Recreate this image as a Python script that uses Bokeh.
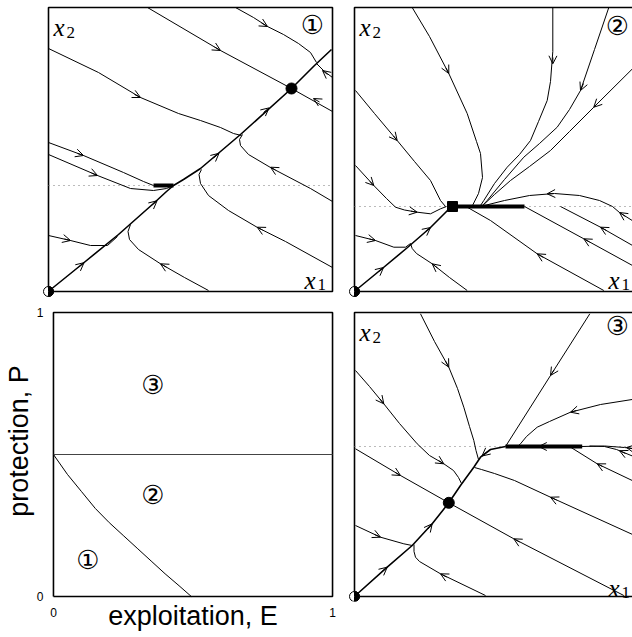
import math
from bokeh.plotting import figure
from bokeh.models import Range1d, ColumnDataSource, Arrow, OpenHead, FixedTicker
from bokeh.layouts import column, row
from bokeh.embed import file_html
from bokeh.resources import INLINE
from bokeh.core.properties import value

BOX = 284  # side of each phase-plane box (state units)

# ---------------- Panel 1 (region 1) ----------------
p1_diag_x = [1, 35, 70, 105, 118, 125, 135, 152, 192, 243, 266, 283]
p1_diag_y = [1, 28.5, 57, 88, 100, 106, 112, 123, 157, 203, 226, 242]
p1_curves_x = [
    [187, 205, 219, 235, 250, 262, 268],
    [99, 172, 243, 284],
    [0, 50, 92, 130, 152, 172, 185, 193],
    [0, 35, 75, 95, 105],
    [0, 49, 82, 105, 118, 125],
    [0, 22, 42, 59, 69],
    [160, 136, 112, 90, 81, 79.5, 82],
    [284, 237, 209, 180, 160, 152, 150.5, 153],
    [284, 262, 222, 200, 192, 191, 194],
    [284, 276, 268],
]
p1_curves_y = [
    [284, 274, 265, 257, 248, 239, 229],
    [284, 241, 203, 180],
    [243, 219, 194, 178, 171, 164, 158, 156],
    [149, 136, 119, 110, 106],
    [137, 116, 103, 101, 103, 106],
    [56, 51, 46, 46, 55],
    [1, 14, 27.7, 42, 52, 60, 67],
    [24, 50, 64, 81, 96, 108, 117, 122],
    [90, 103, 124, 137, 146, 152, 157],
    [214, 220, 228],
]
p1_switch = 106
p1_slide_x = [105, 125]
p1_node_x, p1_node_y = [243], [203]
p1_ar_x0 = [30, 103, 165, 215, 213, 166, 271, 86, 29, 43, 16, 118, 214, 227, 279]
p1_ar_y0 = [24.2, 86, 133.5, 179, 268.5, 244.5, 189.5, 197, 138, 118.5, 52.5, 24.3, 61.5, 121.5, 217]
p1_ar_x1 = [35.5, 108.5, 170.5, 220.5, 219, 172, 265, 92, 35, 49, 22, 112, 208.7, 222, 274]
p1_ar_y1 = [28.8, 90.7, 138.2, 183.6, 265, 241, 193, 194, 136, 116, 51, 27.7, 64.3, 124.3, 221]

# ---------------- Panel 2 (region 2) ----------------
p2_diag_x = [1, 29, 53, 76, 92, 97]
p2_diag_y = [1, 24, 44, 64, 80, 85]
p2_curves_x = [
    [57.7, 75, 94.3, 112.7, 122, 126, 128, 124, 118],
    [1, 20, 42.7, 60, 76, 86, 91],
    [1, 19.3, 32, 41, 50, 62.7, 76, 86, 92],
    [1, 21, 39.3, 51, 56],
    [112.7, 95, 77.7, 62, 57.7, 56],
    [249.3, 182.7, 136, 112.7, 110],
    [284, 229.3, 170],
    [284, 246, 206],
    [284, 265, 258, 245, 225, 200, 175, 150, 130],
    [198.3, 198.3, 196, 192.7, 184, 176, 165, 152.7, 140, 129.3, 126],
    [254.3, 240, 226, 215, 202.7, 185, 169.3, 150, 132.7, 128],
    [284, 239.3, 215, 196, 175, 156, 140, 129.3],
]
p2_curves_y = [
    [284, 255, 218, 178, 150, 138, 114, 98, 86],
    [201, 178, 151, 130, 111, 91, 85],
    [126, 106, 93, 84.3, 81.5, 79.3, 77.7, 82.7, 85],
    [56, 51, 44.3, 44.3, 48],
    [1, 14, 27.7, 38, 43, 48],
    [1, 37.7, 71, 84.3, 85],
    [22.7, 52.7, 85],
    [42.6, 64.3, 85],
    [67, 79, 85, 91, 96, 98, 96, 91, 86],
    [284, 240, 210, 191, 170, 151, 137, 124.3, 108, 91, 86],
    [284, 242, 201, 182, 164.3, 148, 134.3, 112, 91, 86],
    [228.7, 184.3, 160, 141, 125, 111, 97, 87],
]
p2_switch = 85
p2_slide_x = [97, 170]
p2_node_x, p2_node_y = [98], [85]
p2_ar_x0 = [24.5, 71.5, 91.5, 39, 15.5, 56.5, 15, 83, 189, 235, 252, 271, 199, 198.4, 229, 244]
p2_ar_y0 = [20.2, 60.4, 223.5, 155.5, 110, 80.3, 52.5, 23.5, 34, 49.5, 61, 75, 97.9, 234, 208, 189]
p2_ar_x1 = [29, 76, 94.3, 42.7, 19.3, 62.7, 21, 77.7, 182.7, 229.3, 246, 265, 192.7, 198.3, 226, 239.3]
p2_ar_y1 = [24, 64, 218, 151, 106, 79.3, 51, 27.7, 37.7, 52.7, 64.3, 79, 97.7, 227.7, 201, 184.3]

# ---------------- Panel 4 (region 3) ----------------
p4_diag_x = [1, 32.7, 57.7, 77.7, 94.3, 106, 119.3, 126, 136, 151]
p4_diag_y = [1, 29.3, 51, 72.7, 93.7, 111, 129.3, 139.3, 147, 150]
p4_curves_x = [
    [66, 80, 94.3, 103, 109.3, 115, 119.3, 121.5, 124],
    [1, 15, 29.3, 45, 62.7, 75, 89.3, 99, 104, 107],
    [1, 46, 94.3, 159.3, 269.3],
    [284, 196, 160, 140, 127, 120],
    [284, 246, 216, 195, 182.7, 172, 166, 163],
    [235.3, 196, 151],
    [284, 242.7, 215],
    [284, 262, 250, 235],
    [227, 250, 270, 284],
    [1, 26, 49.3, 57.7],
    [131, 86, 65, 61, 59.5, 59.5],
]
p4_curves_y = [
    [282.7, 255, 229.3, 208, 189.3, 170, 156, 146, 137],
    [226, 210, 192.7, 173, 152.7, 141, 132.7, 126, 119, 113],
    [147.7, 121, 93.7, 57.7, 1],
    [59.3, 99.3, 116, 123, 127, 129],
    [198, 192, 184.3, 175, 169.3, 160, 152.7, 150],
    [282.7, 221, 150],
    [113, 132.7, 150],
    [138, 147, 150, 150.5],
    [150, 150.5, 149, 147],
    [71, 59.3, 52.7, 51],
    [1, 22.7, 35, 39.3, 45, 52],
]
p4_switch = 150
p4_slide_x = [151, 227.7]
p4_node_x, p4_node_y = [94.3], [93.7]
p4_ar_x0 = [27, 73.5, 133, 91, 25.5, 84, 40.5, 165, 202, 222, 199.5, 248, 271, 278, 20, 92, 191]
p4_ar_y0 = [24.5, 67.5, 145, 235.5, 197.5, 136, 124.2, 54.5, 96.5, 186, 226.5, 130, 143, 148, 62, 19.5, 150]
p4_ar_x1 = [32.7, 77.7, 127.5, 94.3, 29.3, 89.3, 46, 159.3, 196, 216, 196, 242.7, 265, 272, 26, 86, 184.3]
p4_ar_y1 = [29.3, 72.7, 140.5, 229.3, 192.7, 132.7, 121, 57.7, 99.3, 184.3, 221, 132.7, 145.8, 149, 59.3, 22.7, 150]

# ---------------- Parameter plane (E, P) ----------------
bnd_E = [0, 0.05, 0.1, 0.15, 0.2, 0.25, 0.3, 0.35, 0.4, 0.45, 0.494]
bnd_P = [0.5, 0.43, 0.37, 0.31, 0.26, 0.215, 0.17, 0.125, 0.08, 0.038, 0]
hline_P = 0.5
region_labels = ["\u2460", "\u2461", "\u2462"]
region_E = [0.123, 0.356, 0.356]
region_P = [0.127, 0.356, 0.743]

SERIF = value("Liberation Serif")
SYM = value("DejaVu Sans")


def phase_fig(w, h, xr, yr, top=0, bottom=0):
    p = figure(width=w, height=h, x_range=Range1d(*xr), y_range=Range1d(*yr),
               output_backend="svg", toolbar_location=None, min_border=0,
               min_border_top=top, min_border_bottom=bottom,
               x_axis_location=None, y_axis_location=None)
    p.grid.visible = False
    p.outline_line_color = None
    return p


def draw_phase(p, diag_x, diag_y, cxs, cys, switch, slide_x, ax0, ay0, ax1, ay1,
               node_x, node_y, node_marker, circled, circ_x, circ_y, x1_x, x1_base):
    # frame
    p.line([0, BOX, BOX, 0, 0], [0, 0, BOX, BOX, 0], line_color="black", line_width=1.6)
    # switching line (dotted)
    p.line([0, BOX], [switch, switch], line_color="#777777", line_width=1.2, line_dash="1 4")
    p.multi_line(cxs, cys, line_color="black", line_width=1)
    p.line(diag_x, diag_y, line_color="black", line_width=1.6)
    p.line(slide_x, [switch, switch], line_color="black", line_width=4)
    src = ColumnDataSource(dict(x0=ax0, y0=ay0, x1=ax1, y1=ay1))
    p.add_layout(Arrow(end=OpenHead(size=8, line_width=1, line_color="black"),
                       x_start="x0", y_start="y0", x_end="x1", y_end="y1",
                       source=src, line_width=1, line_color="black"))
    p.scatter(node_x, node_y, marker=node_marker, size=11 if node_marker == "circle" else 10,
              fill_color="black", line_color="black")
    # origin: half filled circle
    p.circle([0], [0], radius=5, fill_color="white", line_color="black", line_width=1)
    p.wedge([0], [0], radius=5, start_angle=-math.pi / 2, end_angle=math.pi / 2,
            fill_color="black", line_color="black")
    # labels
    p.text([5], [264], text=["x"], text_font=SERIF, text_font_style="italic",
           text_font_size="25px", text_baseline="alphabetic", text_align="left", color="black")
    p.text([18], [259], text=["2"], text_font=SERIF, text_font_size="17px",
           text_baseline="alphabetic", text_align="left", color="black")
    p.text([x1_x], [x1_base + 4], text=["x"], text_font=SERIF, text_font_style="italic",
           text_font_size="25px", text_baseline="alphabetic", text_align="left", color="black")
    p.text([x1_x + 13], [x1_base], text=["1"], text_font=SERIF, text_font_size="17px",
           text_baseline="alphabetic", text_align="left", color="black")
    p.text([circ_x], [circ_y], text=[circled], text_font=SYM, text_font_size="26px",
           text_baseline="middle", text_align="center", color="black")


f1 = phase_fig(340, 300, (-48, 292), (-9, 291))
draw_phase(f1, p1_diag_x, p1_diag_y, p1_curves_x, p1_curves_y, p1_switch, p1_slide_x,
           p1_ar_x0, p1_ar_y0, p1_ar_x1, p1_ar_y1, p1_node_x, p1_node_y, "circle",
           region_labels[0], 264, 267, 256, 7)

f2 = phase_fig(292, 300, (-14, 278), (-9, 291))
draw_phase(f2, p2_diag_x, p2_diag_y, p2_curves_x, p2_curves_y, p2_switch, p2_slide_x,
           p2_ar_x0, p2_ar_y0, p2_ar_x1, p2_ar_y1, p2_node_x, p2_node_y, "square",
           region_labels[1], 263, 266, 254, 7)

# bottom row: frames are aligned with the parameter-plane plot (top 310, bottom 601)
f4 = phase_fig(292, 337, (-14, 278), (-5, 286), top=10, bottom=36)
draw_phase(f4, p4_diag_x, p4_diag_y, p4_curves_x, p4_curves_y, p4_switch, p4_slide_x,
           p4_ar_x0, p4_ar_y0, p4_ar_x1, p4_ar_y1, p4_node_x, p4_node_y, "circle",
           region_labels[2], 263, 271, 254, 4)

# parameter plane
f3 = figure(width=340, height=337,
            x_range=Range1d(-2 / BOX, 1 + 2 / BOX), y_range=Range1d(-5 / BOX, 1 + 2 / BOX),
            output_backend="svg", toolbar_location=None,
            min_border_left=46, min_border_right=6, min_border_top=10, min_border_bottom=36)
f3.grid.visible = False
f3.outline_line_color = None
for ax in (f3.xaxis, f3.yaxis):
    ax.ticker = FixedTicker(ticks=[0, 1])
    ax.major_tick_line_color = None
    ax.minor_tick_line_color = None
    ax.axis_line_color = None
    ax.major_label_text_font = "Liberation Sans"
    ax.major_label_text_font_size = "12px"
    ax.major_label_text_color = "black"
    ax.major_label_standoff = 2
    ax.axis_label_text_font = "Liberation Sans"
    ax.axis_label_text_font_style = "normal"
    ax.axis_label_text_font_size = "27px"
    ax.axis_label_text_color = "black"
f3.xaxis.major_label_standoff = 0
f3.xaxis.axis_label = "exploitation, E"
f3.yaxis.axis_label = "\u00a0\u00a0\u00a0\u00a0protection, P"
f3.xaxis.axis_label_standoff = -19
f3.yaxis.axis_label_standoff = 0
f3.line([0, 1, 1, 0, 0], [0, 0, 1, 1, 0], line_color="black", line_width=1.6)
f3.line([0, 1], [hline_P, hline_P], line_color="#444444", line_width=1.2)
f3.line(bnd_E, bnd_P, line_color="black", line_width=1)
f3.text(region_E, region_P, text=region_labels, text_font=SYM, text_font_size="26px",
        text_baseline="middle", text_align="center", color="black")

layout = column(row(f1, f2), row(f3, f4))
open("out.html", "w").write(file_html(layout, INLINE))
